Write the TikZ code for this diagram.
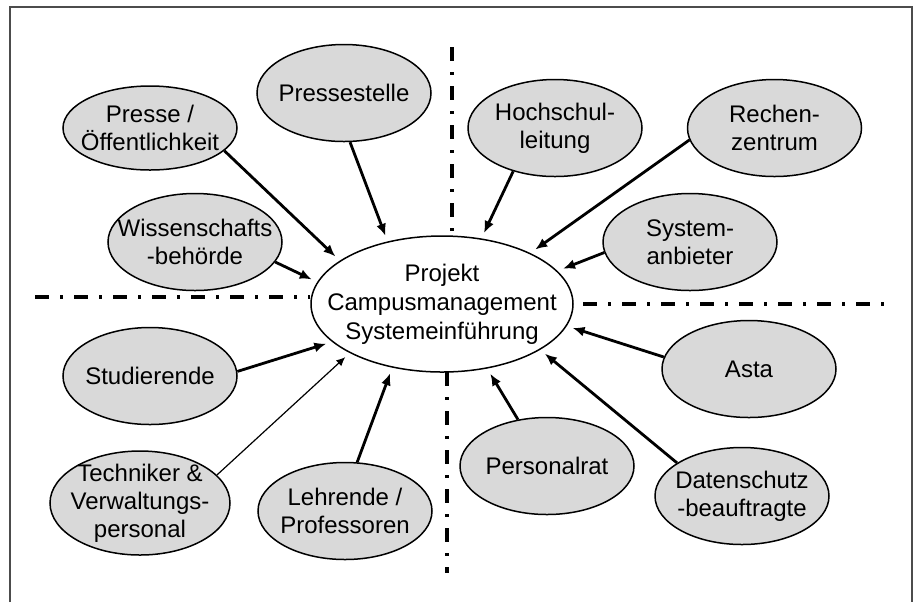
\documentclass[tikz,border=0pt]{standalone}
\usepackage{fontspec}
\setmainfont{Liberation Sans}
\usetikzlibrary{positioning,shapes.geometric,arrows.meta}
\definecolor{partygray}{RGB}{217,217,217}

\begin{document}
\begin{tikzpicture}
                [x=0.5pt,y=-0.5pt,node distance=22pt,
                party/.style={ellipse,draw,line width=0.75pt,fill=partygray,align=center,
                    inner xsep=-20pt,inner ysep=-8pt,minimum width=87pt,minimum height=48.5pt,
                    font=\fontsize{12}{14}\selectfont},
                proj/.style={party,fill=white,minimum width=131pt,minimum height=68pt,
                    font=\fontsize{12}{14.5}\selectfont},
                infl/.style={-{Latex[length=6pt,width=5pt]},line width=1.4pt,shorten >=3pt},
                thinfl/.style={-{Latex[length=4.5pt,width=4pt]},line width=0.6pt,shorten >=3pt},
                sep/.style={line width=1.6pt,dash pattern=on 7pt off 5.5pt on 1.5pt off 5.5pt}]
                \useasboundingbox (0,0) rectangle (916,602);
                \draw[line width=0.6pt,gray!60!black] (10,602) -- (10,7) -- (912,7) -- (912,602);
                \draw[sep] (35,297) -- (310,297);
                \draw[sep] (583,304) -- (888,304);
                \draw[sep] (452,47) -- (452,232);
                \draw[sep] (447,372) -- (447,573);
                \node[proj] (proj) at (442,304){Projekt\\Campusmanagement\\Systemeinführung};
                \node[party,minimum height=42pt] (presse) at (150,128){Presse /\\Öffentlichkeit};
                \node[party] (pst) at (344,93){Pressestelle};
                \node[party] (wiss) at (195,242){Wissenschafts\\-behörde};
                \node[party] (hsl) at (555,128){Hochschul-\\leitung};
                \node[party] (rz)[right=of hsl]{Rechen-\\zentrum};
                \node[party] (sys) at (690,242){System-\\anbieter};
                \node[party] (stud) at (150,376){Studierende};
                \node[party,minimum width=90pt,minimum height=52pt] (tech) at (140,503){Techniker \&\\Verwaltungs-\\personal};
                \node[party] (lehr) at (345,511){Lehrende /\\Professoren};
                \node[party] (asta) at (749,369){Asta};
                \node[party] (prat) at (547,466){Personalrat};
                \node[party] (dsb) at (742,496){Datenschutz\\-beauftragte};
                \draw[infl] (presse.-17) -- (proj.157);
                \draw[infl] (pst.-83) -- (proj.131);
                \draw[infl] (wiss.-14) -- (proj.170);
                \draw[infl] (hsl.226) -- (proj.59);
                \draw[infl] (rz.188) -- (proj.30);
                \draw[infl] (sys.187) -- (proj.16);
                \draw[infl] (stud.3) -- (proj.199);
                \draw[thinfl] (tech.20) -- (proj.208);
                \draw[infl] (lehr.76) -- (proj.232);
                \draw[infl] (asta.172) -- (proj.-10);
                \draw[infl] (prat.122) -- (proj.-55);
                \draw[infl] (dsb.153) -- (proj.-25);
\end{tikzpicture}
\end{document}
